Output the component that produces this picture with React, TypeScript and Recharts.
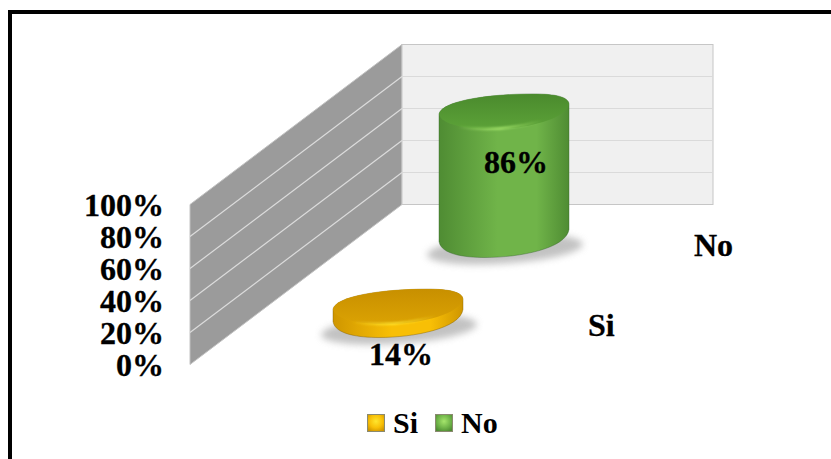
import { Bar, BarChart, Customized, LabelList, Legend, XAxis, YAxis } from "recharts";

const categories = [""];
const seriesNames = ["Si", "No"];
const siValues = [14];
const noValues = [86];
const yTicks = [0, 20, 40, 60, 80, 100];

const data = categories.map((name, i) => ({ name, Si: siValues[i], No: noValues[i] }));

const FONT = "'Liberation Serif', 'Times New Roman', serif";
const PLOT = { left: 190, top: 204.5, width: 310, height: 160 };
// floor shear: how far a full depth step moves a point right and up
const SHEAR_X = 212;
const SHEAR_Y = 160;

const palette: Record<string, { edge: string; mid: string; topA: string; topB: string; shine: string; rim: string }> = {
  Si: { edge: "#cf9600", mid: "#f8bf06", topA: "#c89000", topB: "#dba203", shine: "#ffe62e", rim: "#7d5a00" },
  No: { edge: "#4f8c33", mid: "#70b449", topA: "#4a8a2d", topB: "#5ca238", shine: "#a5e56c", rim: "#35652a" },
};

// series sit one behind the other on the depth axis
function depthOf(name: string) {
  const frac = (seriesNames.indexOf(name) + 0.5) / seriesNames.length;
  return { dx: frac * SHEAR_X, dy: frac * SHEAR_Y };
}

function Walls() {
  const { left, top, width, height } = PLOT;
  const backX = left + SHEAR_X;
  const backY = top - SHEAR_Y;
  const backW = 311;
  return (
    <g>
      <polygon
        points={`${left},${top} ${backX},${backY} ${backX},${backY + height} ${left},${top + height}`}
        fill="#9b9b9b"
        stroke="#c2c2c2"
      />
      <rect x={backX} y={backY} width={backW} height={height} fill="#f0f0f0" stroke="#c6c6c6" />
      {yTicks.slice(1, -1).map((t) => {
        const y = top + height * (1 - t / 100);
        return (
          <g key={t}>
            <line x1={left} y1={y} x2={backX} y2={y - SHEAR_Y} stroke="#dcdcdc" strokeWidth={1.2} />
            <line x1={backX} y1={y - SHEAR_Y} x2={backX + backW} y2={y - SHEAR_Y} stroke="#dadada" strokeWidth={1.2} />
          </g>
        );
      })}
    </g>
  );
}

function Gradients() {
  return (
    <defs>
      {seriesNames.map((s) => (
        <g key={s}>
          <linearGradient id={`body-${s}`} x1="0" y1="0" x2="1" y2="0">
            <stop offset="0" stopColor={palette[s].edge} />
            <stop offset="0.45" stopColor={palette[s].mid} />
            <stop offset="0.75" stopColor={palette[s].mid} />
            <stop offset="1" stopColor={palette[s].edge} />
          </linearGradient>
          <linearGradient id={`top-${s}`} x1="0" y1="0" x2="0" y2="1">
            <stop offset="0" stopColor={palette[s].topA} />
            <stop offset="1" stopColor={palette[s].topB} />
          </linearGradient>
          <linearGradient id={`shine-${s}`} x1="0" y1="0" x2="1" y2="0">
            <stop offset="0" stopColor={palette[s].shine} stopOpacity="0" />
            <stop offset="0.5" stopColor={palette[s].shine} />
            <stop offset="1" stopColor={palette[s].shine} stopOpacity="0" />
          </linearGradient>
        </g>
      ))}
      <filter id="soft" x="-20%" y="-60%" width="140%" height="220%">
        <feGaussianBlur stdDeviation="3.5" />
      </filter>
      <filter id="softer" x="-20%" y="-100%" width="140%" height="300%">
        <feGaussianBlur stdDeviation="1" />
      </filter>
    </defs>
  );
}

function Cylinder(props: any) {
  const { x, y, width, height, seriesName } = props;
  const { dx, dy } = depthOf(seriesName);
  const rx = width / 2;
  const cx = x + rx + dx;
  const yTop = y - dy;
  const yBot = y + height - dy;
  // rim shared by the body outline and the top face
  const upperRim = [
    `M${cx - rx},${yTop + 7}`,
    `C${cx - rx + 3},${yTop - 6} ${cx - 15},${yTop - 13} ${cx + 29},${yTop - 13}`,
    `C${cx + 52},${yTop - 13} ${cx + rx - 1},${yTop - 10} ${cx + rx},${yTop - 3}`,
  ].join(" ");
  const outline = [
    upperRim,
    `L${cx + rx},${yBot - 15}`,
    `C${cx + rx - 3},${yBot + 4} ${cx + 16},${yBot + 13} ${cx - 19},${yBot + 13}`,
    `C${cx - 39},${yBot + 13} ${cx - rx + 2},${yBot + 10} ${cx - rx},${yBot - 3}`,
    "Z",
  ].join(" ");
  const topFace = [
    upperRim,
    `C${cx + rx - 3},${yTop + 12} ${cx + 24},${yTop + 21} ${cx - 4},${yTop + 22}`,
    `C${cx - 36},${yTop + 23} ${cx - rx + 2},${yTop + 18} ${cx - rx},${yTop + 7}`,
    "Z",
  ].join(" ");
  const c = palette[seriesName];
  return (
    <g>
      <ellipse
        cx={cx + 1}
        cy={yBot + 5}
        rx={rx + 13}
        ry={14}
        fill="#9a9a9a"
        opacity={0.6}
        filter="url(#soft)"
        transform={`rotate(-4 ${cx + 1} ${yBot + 5})`}
      />
      <path d={outline} fill={`url(#body-${seriesName})`} stroke={c.rim} strokeOpacity={0.4} />
      <path d={topFace} fill={`url(#top-${seriesName})`} />
      <path
        d={`M${cx - 46},${yTop + 20} Q${cx - 4},${yTop + 26} ${cx + 38},${yTop + 14}`}
        fill="none"
        stroke={`url(#shine-${seriesName})`}
        strokeWidth={2.5}
        filter="url(#softer)"
      />
    </g>
  );
}

function PercentLabel(props: any) {
  const { x, y, width, height, value, seriesName } = props;
  const { dx, dy } = depthOf(seriesName);
  const cx = x + width / 2 + dx;
  // the tall cylinder carries its label on the body, the flat one under its rim
  const isFlat = value < 50;
  const labelX = cx + (isFlat ? 3 : 12);
  const labelY = isFlat ? y + height - dy + 30 : y + height / 2 - dy - 13;
  return (
    <text
      x={labelX}
      y={labelY}
      dy="0.33em"
      textAnchor="middle"
      fontFamily={FONT}
      fontWeight={700}
      fontSize={32}
      fill="#000"
      stroke="#000"
      strokeWidth={0.3}
    >
      {`${value}%`}
    </text>
  );
}

function DepthLabel(props: any) {
  const { x, y, width, height, seriesName } = props;
  const { dx, dy } = depthOf(seriesName);
  return (
    <text
      x={x + width / 2 + dx + 190}
      y={y + height - dy + 1}
      dy="0.33em"
      fontFamily={FONT}
      fontWeight={700}
      fontSize={32}
      fill="#000"
      stroke="#000"
      strokeWidth={0.3}
    >
      {seriesName}
    </text>
  );
}

function LegendSwatch({ name }: { name: string }) {
  const c = palette[name];
  return (
    <svg width={18} height={18} style={{ display: "block" }}>
      <defs>
        <radialGradient id={`swatch-${name}`} cx="0.5" cy="0.4" r="0.65">
          <stop offset="0" stopColor={c.shine} />
          <stop offset="0.6" stopColor={c.mid} />
          <stop offset="1" stopColor={c.edge} />
        </radialGradient>
      </defs>
      <rect x={0.5} y={0.5} width={17} height={17} fill={`url(#swatch-${name})`} stroke="#8a8a70" />
    </svg>
  );
}

function ChartLegend() {
  return (
    <div style={{ display: "flex", alignItems: "center", fontFamily: FONT, fontWeight: 700, fontSize: 30, lineHeight: "36px", color: "#000" }}>
      {seriesNames.map((name) => (
        <div key={name} style={{ display: "flex", alignItems: "center", marginRight: 17 }}>
          <LegendSwatch name={name} />
          <span style={{ marginLeft: 8 }}>{name}</span>
        </div>
      ))}
    </div>
  );
}

function seriesBar(name: string) {
  return (
    <Bar
      key={name}
      dataKey={name}
      barSize={130}
      isAnimationActive={false}
      shape={(p: any) => <Cylinder {...p} seriesName={name} />}
    >
      <LabelList dataKey={name} content={(p: any) => <PercentLabel {...p} seriesName={name} />} />
      <LabelList dataKey={name} content={(p: any) => <DepthLabel {...p} seriesName={name} />} />
    </Bar>
  );
}

export default function App() {
  return (
    <div style={{ position: "absolute", left: 0, top: 0, width: 831, height: 459, overflow: "hidden", background: "#fff" }}>
      <div style={{ position: "absolute", left: 7.5, top: 10, width: 860, height: 500, border: "4px solid #000" }} />
      <div style={{ position: "absolute", left: 0, top: 0 }}>
        <BarChart
          width={831}
          height={459}
          data={data}
          barGap={-130}
          margin={{ left: PLOT.left - 100, top: PLOT.top, right: 831 - PLOT.left - PLOT.width, bottom: 459 - PLOT.top - PLOT.height }}
        >
          <Gradients />
          <Customized component={Walls} />
          <XAxis dataKey="name" hide />
          <YAxis
            width={100}
            domain={[0, 100]}
            ticks={yTicks}
            axisLine={false}
            tickLine={false}
            tickSize={0}
            tickMargin={26}
            tickFormatter={(v: number) => `${v}%`}
            tick={{ fontFamily: FONT, fontWeight: 700, fontSize: 32, fill: "#000", stroke: "#000", strokeWidth: 0.3 }}
            interval={0}
          />
          {/* back series first so the nearer one paints over it */}
          {[...seriesNames].reverse().map(seriesBar)}
          <Legend
            layout="horizontal"
            align="center"
            verticalAlign="middle"
            content={<ChartLegend />}
            wrapperStyle={{ top: 405, left: 367, width: 200, bottom: "auto" }}
          />
        </BarChart>
      </div>
    </div>
  );
}
